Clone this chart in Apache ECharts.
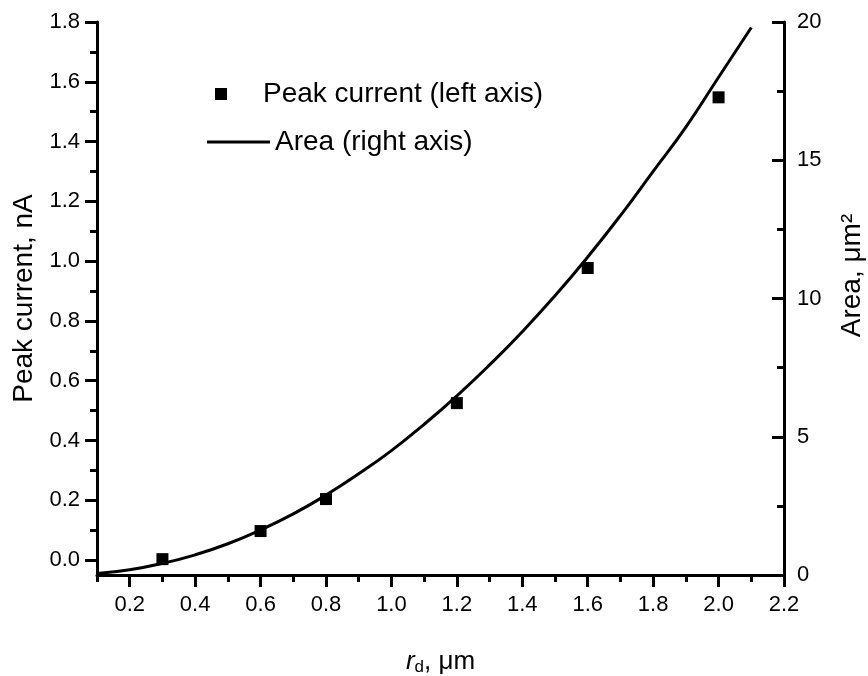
<!DOCTYPE html>
<html>
<head>
<meta charset="utf-8">
<script src="https://cdn.jsdelivr.net/npm/echarts@6/dist/echarts.min.js"></script>
<style>
html,body{margin:0;padding:0;background:#fff;}
#chart{width:868px;height:676px;}
</style>
</head>
<body>
<div id="chart"></div>
<script>
// Peak current measurements (left axis)
const peakR = [0.3, 0.6, 0.8, 1.2, 1.6, 2.0];
const peakCurrent = [0.003, 0.097, 0.204, 0.525, 0.977, 1.548];
// Area curve (right axis)
const areaR = [0.1,0.2,0.3,0.4,0.5,0.6,0.7,0.8,0.9,1.0,1.1,1.2,1.3,1.4,1.5,1.6,1.7,1.8,1.9,2.0,2.1];
const areaVals = [0.05,0.19,0.42,0.73,1.13,1.63,2.21,2.89,3.66,4.5,5.45,6.48,7.6,8.8,10.1,11.5,13.0,14.6,16.2,18.0,19.8];
// Tick labels
const xMajorTicks = [0.2,0.4,0.6,0.8,1.0,1.2,1.4,1.6,1.8,2.0,2.2];
const xMinorTicks = [0.1,0.3,0.5,0.7,0.9,1.1,1.3,1.5,1.7,1.9,2.1];
const yMajorTicks = [0.0,0.2,0.4,0.6,0.8,1.0,1.2,1.4,1.6,1.8];
const yMinorTicks = [0.1,0.3,0.5,0.7,0.9,1.1,1.3,1.5,1.7];

const FONT = 'Liberation Sans';
const chart = echarts.init(document.getElementById('chart'));
const axisLine = {show:true, onZero:false, lineStyle:{color:'#000', width:3}};
const majorTick = (vals, inside) => ({show:true, inside:!!inside, length:12, lineStyle:{color:'#000', width:3}, customValues: vals});
const minorTickAxis = (vals) => ({show:true, length:7, lineStyle:{color:'#000', width:3}, customValues: vals});
const labelStyle = {color:'#000', fontFamily:FONT, fontSize:22};

chart.setOption({
  animation:false,
  backgroundColor:'#fff',
  grid:{left:97, right:84, top:22, bottom:101, containLabel:false, outerBoundsMode:'none'},
  legend:[
    {data:['Peak current (left axis)'], left:210, top:75, itemWidth:12, itemHeight:12,
     textStyle:{color:'#000', fontFamily:FONT, fontSize:28, padding:[0,0,0,31]}},
    {data:[{name:'Area (right axis)', icon:'rect'}], left:202, top:123, itemWidth:63, itemHeight:3,
     textStyle:{color:'#000', fontFamily:FONT, fontSize:28}}
  ],
  xAxis:[
    {type:'value', min:0.1, max:2.2, position:'bottom',
     axisLine:axisLine, axisTick:majorTick(xMajorTicks),
     axisLabel:Object.assign({margin:19, customValues:xMajorTicks, formatter:v=>v.toFixed(1)}, labelStyle),
     splitLine:{show:false},
     name:'{i|r}{s|d}{n|, μm}', nameLocation:'middle', nameGap:72,
     nameTextStyle:{color:'#000', fontFamily:FONT, rich:{
       i:{fontStyle:'italic', fontSize:26, fontFamily:FONT, color:'#000'},
       s:{fontSize:17, fontFamily:FONT, color:'#000', verticalAlign:'bottom', padding:[12,0,0,0]},
       n:{fontSize:26, fontFamily:FONT, color:'#000'}}}},
    {type:'value', min:0.1, max:2.2, position:'bottom',
     axisLine:{show:false, onZero:false}, axisTick:minorTickAxis(xMinorTicks),
     axisLabel:{show:false}, splitLine:{show:false}}
  ],
  yAxis:[
    {type:'value', min:-0.05, max:1.8, position:'left',
     axisLine:axisLine, axisTick:majorTick(yMajorTicks),
     axisLabel:Object.assign({margin:17, customValues:yMajorTicks, formatter:v=>v.toFixed(1)}, labelStyle),
     splitLine:{show:false},
     name:'Peak current, nA', nameLocation:'middle', nameRotate:90, nameGap:58,
     nameTextStyle:{color:'#000', fontFamily:FONT, fontSize:28}},
    {type:'value', min:0, max:20, interval:5, position:'right',
     axisLine:axisLine, axisTick:{show:true, inside:true, length:12, lineStyle:{color:'#000', width:3}},
     minorTick:{show:true, splitNumber:2, length:7, lineStyle:{color:'#000', width:3}},
     axisLabel:Object.assign({margin:13}, labelStyle),
     splitLine:{show:false},
     name:'Area, μm²', nameLocation:'middle', nameRotate:90, nameGap:54,
     nameTextStyle:{color:'#000', fontFamily:FONT, fontSize:28, padding:[0,0,0,46]}},
    {type:'value', min:-0.05, max:1.8, position:'left',
     axisLine:{show:false, onZero:false}, axisTick:minorTickAxis(yMinorTicks),
     axisLabel:{show:false}, splitLine:{show:false}}
  ],
  series:[
    {name:'Area (right axis)', type:'line', xAxisIndex:0, yAxisIndex:1,
     data: areaR.map((r,i)=>[r, areaVals[i]]), smooth:true, showSymbol:false, symbol:'none',
     lineStyle:{color:'#000', width:3}, itemStyle:{color:'#000'}, z:2},
    {name:'Peak current (left axis)', type:'scatter', xAxisIndex:0, yAxisIndex:0,
     data: peakR.map((r,i)=>[r, peakCurrent[i]]), symbol:'rect', symbolSize:12,
     itemStyle:{color:'#000', opacity:1}, z:3}
  ]
});
</script>
</body>
</html>
